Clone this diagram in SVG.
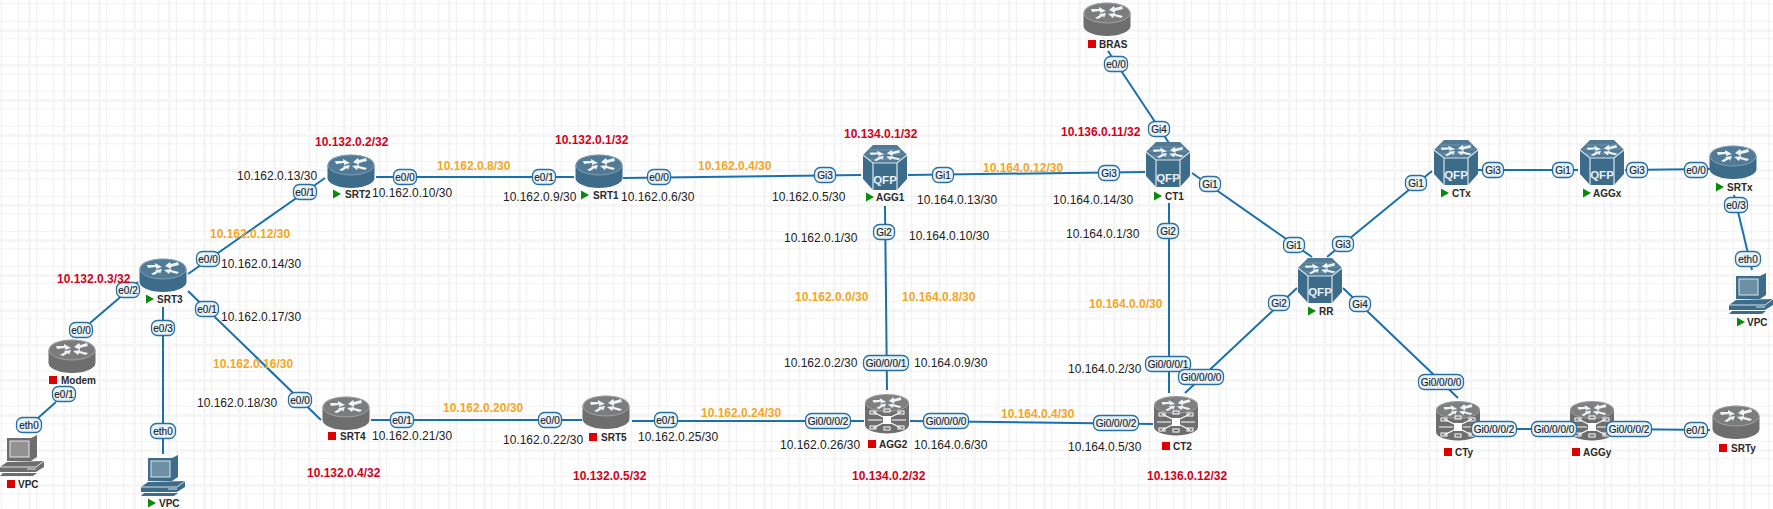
<svg xmlns="http://www.w3.org/2000/svg" xmlns:xlink="http://www.w3.org/1999/xlink" width="1773" height="509" viewBox="0 0 1773 509">
<style>
text{font-family:"Liberation Sans",Arial,sans-serif}
.c line{stroke:#1a6fad;stroke-width:2;fill:none}
.p rect{fill:#e6f3fc;stroke:#2a6f9f;stroke-width:1.3}
.p text{font-size:10px;fill:#222;text-anchor:middle;stroke:#222;stroke-width:.15}
.ip{font-size:12px;fill:#222}
.o{font-size:12px;font-weight:bold;fill:#f5a623}
.r{font-size:12px;font-weight:bold;fill:#d0021b}
.n{font-size:10px;font-weight:bold;fill:#2a2a2a}
.q{font-size:11.5px;font-weight:bold;fill:#e8f1f7;text-anchor:middle}
.b{fill:#3d6b8a}
.g{fill:#6e6e6e}
.st{fill:#0a8a0a}
.sq{fill:#dd0000}
</style>
<defs>
<pattern id="grid" width="17.5" height="17.5" patternUnits="userSpaceOnUse" x="0.8" y="3.3">
<path d="M0 0H17.5M0 0V17.5" stroke="#e6e6e6" stroke-width="1.2" fill="none"/>
</pattern>
<pattern id="band" width="35" height="35" patternUnits="userSpaceOnUse" x="-7" y="-6">
<path d="M0 0H35M0 0V35" stroke="#f6f6f6" stroke-width="6" fill="none"/>
</pattern>
<g id="arrows" fill="#eef3f6" stroke="none">
<polygon points="-16,-10 -8,-10 -8,-12 -1,-8 -7,-6 -7,-8 -15,-7"/>
<polygon points="16,-10 8,-8 8,-6 2,-9 7,-13 8,-11 15,-13"/>
<polygon points="-12,-1 -7,-4 -8,-5 -1,-6 -3,-1 -4,-3 -9,0"/>
<polygon points="14,-1 7,-3 6,-1 1,-5 8,-6 8,-5 16,-3"/>
</g>
<g id="router">
<path d="M-23.500-6V7A23.500 10 0 0 0 23.500 7V-6Z"/>
<ellipse cx="0" cy="-6" rx="23.500" ry="10.500"/>
<ellipse cx="0" cy="-6" rx="23" ry="10" fill="#fff" fill-opacity=".1" stroke="#fff" stroke-opacity=".4" stroke-width=".8"/>
<use xlink:href="#arrows"/>
</g>
<g id="qfp">
<polygon points="-12,-23 12,-23 22,-13 22,11 12,22 -12,22 -22,11 -22,-13"/>
<polygon points="-12,-23 12,-23 22,-13 12,-5 -12,-5 -22,-13" fill="#fff" fill-opacity=".1"/>
<path d="M-22-13-12-5H12L22-13M-12-5V22M12-5V22" stroke="#d8e6ee" stroke-width="1.2" fill="none"/>
<path d="M-16-18H16M-19-14H19M-16-9H16" stroke="#fff" stroke-opacity=".2" fill="none"/>
<g transform="translate(0,-7) scale(.95,.85)"><use xlink:href="#arrows"/></g>
</g>
<g id="sw">
<path d="M-22-12V10A22 8.500 0 0 0 22 10V-12Z"/>
<ellipse cx="0" cy="-12" rx="22" ry="9"/>
<ellipse cx="0" cy="-12" rx="21.500" ry="8.500" fill="#fff" fill-opacity=".12" stroke="#fff" stroke-opacity=".35" stroke-width=".8"/>
<g transform="translate(0,-6) scale(.9)"><use xlink:href="#arrows"/></g>
<g fill="#fff" stroke="#fff" transform="translate(0,-3)">
<rect x="-4" y="4" width="8" height="8" stroke="none"/>
<path d="M-19 8H-5M5 8H19M-14 0-4 5M14 0 4 5M-14 16-4 11M14 16 4 11" stroke-width="1.2" fill="none"/>
<g fill="none" stroke-width="1"><rect x="-17" y="-1" width="6" height="3"/><rect x="11" y="-1" width="6" height="3"/><rect x="-17" y="14" width="6" height="3"/><rect x="11" y="14" width="6" height="3"/><rect x="-3" y="-3" width="6" height="3"/><rect x="-3" y="15" width="6" height="3"/></g>
</g>
</g>
<g id="pc">
<polygon points="-15,-17 9,-17 15,-20 15,2 9,6 -15,6"/>
<rect x="-12" y="-14" width="19" height="16" fill="#fff" fill-opacity=".25" stroke="#fff" stroke-opacity=".8"/>
<polygon points="-22,12 -15,7 22,6 22,12 14,17 -22,17"/>
<path d="M-22 12H14L22 6M5 14H14" stroke="#fff" stroke-opacity=".8" fill="none"/>
<polygon points="-19,18 15,18 11,21 -22,21"/>
</g>
<polygon id="st" points="0,-4.500 8,0 0,4.500"/>
<rect id="sq" x="0" y="-4" width="8" height="8"/>
</defs>
<rect width="1773" height="509" fill="#fff"/>
<rect width="1773" height="509" fill="url(#band)"/>
<rect width="1773" height="509" fill="url(#grid)"/>

<g id="connectors" class="c">
<line x1="188" y1="274" x2="325" y2="178"/>
<line x1="138" y1="282" x2="90" y2="323"/>
<line x1="163" y1="307" x2="163" y2="454"/>
<line x1="188" y1="291" x2="321" y2="420"/>
<line x1="56" y1="402" x2="38" y2="418"/>
<line x1="376" y1="177" x2="574" y2="177"/>
<line x1="623" y1="178" x2="861" y2="175"/>
<line x1="908" y1="175" x2="1145" y2="172"/>
<line x1="1108" y1="51" x2="1169" y2="143"/>
<line x1="885" y1="206" x2="887" y2="390"/>
<line x1="1169" y1="203" x2="1169" y2="393"/>
<line x1="1192" y1="173" x2="1312" y2="257"/>
<line x1="1185" y1="393" x2="1297" y2="288"/>
<line x1="1327" y1="257" x2="1432" y2="171"/>
<line x1="1343" y1="288" x2="1458" y2="398"/>
<line x1="1478" y1="170" x2="1578" y2="170"/>
<line x1="1625" y1="170" x2="1710" y2="169"/>
<line x1="1734" y1="195" x2="1752" y2="270"/>
<line x1="910" y1="421" x2="1153" y2="424"/>
<line x1="371" y1="420" x2="582" y2="420"/>
<line x1="632" y1="421" x2="864" y2="421"/>
<line x1="1470" y1="429" x2="1570" y2="429"/>
<line x1="1610" y1="429" x2="1710" y2="430"/>
</g>

<g id="SRT3"><use xlink:href="#router" x="163" y="275" class="b"/><use xlink:href="#st" x="146" y="299" class="st"/><text x="157" y="303" class="n">SRT3</text></g>
<g id="SRT2"><use xlink:href="#router" x="351" y="171" class="b"/><use xlink:href="#st" x="333" y="194" class="st"/><text x="345" y="198" class="n">SRT2</text></g>
<g id="Modem"><use xlink:href="#router" x="72" y="356" class="g"/><use xlink:href="#sq" x="49" y="380" class="sq"/><text x="61" y="384" class="n">Modem</text></g>
<g id="SRT4"><use xlink:href="#router" x="346" y="413" class="g"/><use xlink:href="#sq" x="328" y="436" class="sq"/><text x="340" y="440" class="n">SRT4</text></g>
<g id="VPC1"><use xlink:href="#pc" x="22" y="455" class="g"/><use xlink:href="#sq" x="7" y="484" class="sq"/><text x="18" y="488" class="n">VPC</text></g>
<g id="VPC2"><use xlink:href="#pc" x="163" y="475" class="b"/><use xlink:href="#st" x="148" y="503" class="st"/><text x="159" y="507" class="n">VPC</text></g>
<g id="SRT1"><use xlink:href="#router" x="599" y="171" class="b"/><use xlink:href="#st" x="581" y="195" class="st"/><text x="593" y="199" class="n">SRT1</text></g>
<g id="SRT5"><use xlink:href="#router" x="606" y="412" class="g"/><use xlink:href="#sq" x="589" y="437" class="sq"/><text x="601" y="441" class="n">SRT5</text></g>
<g id="AGG1"><use xlink:href="#qfp" x="885" y="168" class="b"/><text x="885" y="184" class="q">QFP</text><use xlink:href="#st" x="866" y="197" class="st"/><text x="876" y="201" class="n">AGG1</text></g>
<g id="CT1"><use xlink:href="#qfp" x="1168" y="165" class="b"/><text x="1168" y="182" class="q">QFP</text><use xlink:href="#st" x="1154" y="196" class="st"/><text x="1165" y="200" class="n">CT1</text></g>
<g id="RR"><use xlink:href="#qfp" x="1320" y="281" class="b"/><text x="1320" y="296" class="q">QFP</text><use xlink:href="#st" x="1308" y="311" class="st"/><text x="1319" y="315" class="n">RR</text></g>
<g id="CTx"><use xlink:href="#qfp" x="1456" y="163" class="b"/><text x="1456" y="179" class="q">QFP</text><use xlink:href="#st" x="1441" y="193" class="st"/><text x="1452" y="197" class="n">CTx</text></g>
<g id="AGGx"><use xlink:href="#qfp" x="1602" y="163" class="b"/><text x="1602" y="179" class="q">QFP</text><use xlink:href="#st" x="1583" y="193" class="st"/><text x="1593" y="197" class="n">AGGx</text></g>
<g id="SRTx"><use xlink:href="#router" x="1733" y="162" class="b"/><use xlink:href="#st" x="1716" y="187" class="st"/><text x="1727" y="191" class="n">SRTx</text></g>
<g id="VPCx"><use xlink:href="#pc" x="1751" y="293" class="b"/><use xlink:href="#st" x="1737" y="322" class="st"/><text x="1747" y="326" class="n">VPC</text></g>
<g id="AGG2"><use xlink:href="#sw" x="887" y="415" class="g"/><use xlink:href="#sq" x="868" y="444" class="sq"/><text x="879" y="448" class="n">AGG2</text></g>
<g id="CT2"><use xlink:href="#sw" x="1176" y="417" class="g"/><use xlink:href="#sq" x="1162" y="446" class="sq"/><text x="1173" y="450" class="n">CT2</text></g>
<g id="CTy"><use xlink:href="#sw" x="1458" y="422" class="g"/><use xlink:href="#sq" x="1444" y="452" class="sq"/><text x="1455" y="456" class="n">CTy</text></g>
<g id="AGGy"><use xlink:href="#sw" x="1592" y="422" class="g"/><use xlink:href="#sq" x="1572" y="452" class="sq"/><text x="1583" y="456" class="n">AGGy</text></g>
<g id="SRTy"><use xlink:href="#router" x="1736" y="422" class="g"/><use xlink:href="#sq" x="1719" y="448" class="sq"/><text x="1731" y="452" class="n">SRTy</text></g>
<g id="BRAS"><use xlink:href="#router" x="1107" y="19" class="g"/><use xlink:href="#sq" x="1088" y="44" class="sq"/><text x="1099" y="48" class="n">BRAS</text></g>

<g id="interfaces" class="p">
<g><rect x="293.500" y="184.500" width="23" height="15" rx="6"/><text x="305" y="195.500">e0/1</text></g>
<g><rect x="393.500" y="169.500" width="23" height="15" rx="6"/><text x="405" y="180.500">e0/0</text></g>
<g><rect x="196.500" y="251.500" width="23" height="15" rx="6"/><text x="208" y="262.500">e0/0</text></g>
<g><rect x="116.500" y="282.500" width="23" height="15" rx="6"/><text x="128" y="293.500">e0/2</text></g>
<g><rect x="151.500" y="320.500" width="23" height="15" rx="6"/><text x="163" y="331.500">e0/3</text></g>
<g><rect x="195.500" y="301.500" width="23" height="15" rx="6"/><text x="207" y="312.500">e0/1</text></g>
<g><rect x="69.500" y="322.500" width="23" height="15" rx="6"/><text x="81" y="333.500">e0/0</text></g>
<g><rect x="52.500" y="386.500" width="23" height="15" rx="6"/><text x="64" y="397.500">e0/1</text></g>
<g><rect x="16.500" y="417.500" width="25" height="15" rx="6"/><text x="29" y="428.500">eth0</text></g>
<g><rect x="150.500" y="423.500" width="25" height="15" rx="6"/><text x="163" y="434.500">eth0</text></g>
<g><rect x="288.500" y="392.500" width="23" height="15" rx="6"/><text x="300" y="403.500">e0/0</text></g>
<g><rect x="390.500" y="412.500" width="23" height="15" rx="6"/><text x="402" y="423.500">e0/1</text></g>
<g><rect x="532.500" y="169.500" width="23" height="15" rx="6"/><text x="544" y="180.500">e0/1</text></g>
<g><rect x="647.500" y="169.500" width="23" height="15" rx="6"/><text x="659" y="180.500">e0/0</text></g>
<g><rect x="814.500" y="167.500" width="21" height="15" rx="6"/><text x="825" y="178.500">Gi3</text></g>
<g><rect x="932.500" y="167.500" width="21" height="15" rx="6"/><text x="943" y="178.500">Gi1</text></g>
<g><rect x="1098.500" y="165.500" width="21" height="15" rx="6"/><text x="1109" y="176.500">Gi3</text></g>
<g><rect x="1199.500" y="176.500" width="21" height="15" rx="6"/><text x="1210" y="187.500">Gi1</text></g>
<g><rect x="1148.500" y="121.500" width="21" height="15" rx="6"/><text x="1159" y="132.500">Gi4</text></g>
<g><rect x="873.500" y="224.500" width="21" height="15" rx="6"/><text x="884" y="235.500">Gi2</text></g>
<g><rect x="1157.500" y="223.500" width="21" height="15" rx="6"/><text x="1168" y="234.500">Gi2</text></g>
<g><rect x="1104.500" y="56.500" width="23" height="15" rx="6"/><text x="1116" y="67.500">e0/0</text></g>
<g><rect x="863.500" y="355.500" width="45" height="15" rx="6"/><text x="886" y="366.500">Gi0/0/0/1</text></g>
<g><rect x="805.500" y="413.500" width="45" height="15" rx="6"/><text x="828" y="424.500">Gi0/0/0/2</text></g>
<g><rect x="923.500" y="413.500" width="45" height="15" rx="6"/><text x="946" y="424.500">Gi0/0/0/0</text></g>
<g><rect x="1093.500" y="415.500" width="45" height="15" rx="6"/><text x="1116" y="426.500">Gi0/0/0/2</text></g>
<g><rect x="1145.500" y="356.500" width="45" height="15" rx="6"/><text x="1168" y="367.500">Gi0/0/0/1</text></g>
<g><rect x="1178.500" y="369.500" width="45" height="15" rx="6"/><text x="1201" y="380.500">Gi0/0/0/0</text></g>
<g><rect x="538.500" y="412.500" width="23" height="15" rx="6"/><text x="550" y="423.500">e0/0</text></g>
<g><rect x="654.500" y="412.500" width="23" height="15" rx="6"/><text x="666" y="423.500">e0/1</text></g>
<g><rect x="1283.500" y="237.500" width="21" height="15" rx="6"/><text x="1294" y="248.500">Gi1</text></g>
<g><rect x="1332.500" y="236.500" width="21" height="15" rx="6"/><text x="1343" y="247.500">Gi3</text></g>
<g><rect x="1268.500" y="295.500" width="21" height="15" rx="6"/><text x="1279" y="306.500">Gi2</text></g>
<g><rect x="1349.500" y="296.500" width="21" height="15" rx="6"/><text x="1360" y="307.500">Gi4</text></g>
<g><rect x="1418.500" y="374.500" width="45" height="15" rx="6"/><text x="1441" y="385.500">Gi0/0/0/0</text></g>
<g><rect x="1405.500" y="175.500" width="21" height="15" rx="6"/><text x="1416" y="186.500">Gi1</text></g>
<g><rect x="1482.500" y="162.500" width="21" height="15" rx="6"/><text x="1493" y="173.500">Gi3</text></g>
<g><rect x="1552.500" y="162.500" width="21" height="15" rx="6"/><text x="1563" y="173.500">Gi1</text></g>
<g><rect x="1626.500" y="162.500" width="21" height="15" rx="6"/><text x="1637" y="173.500">Gi3</text></g>
<g><rect x="1684.500" y="162.500" width="23" height="15" rx="6"/><text x="1696" y="173.500">e0/0</text></g>
<g><rect x="1724.500" y="197.500" width="23" height="15" rx="6"/><text x="1736" y="208.500">e0/3</text></g>
<g><rect x="1735.500" y="251.500" width="25" height="15" rx="6"/><text x="1748" y="262.500">eth0</text></g>
<g><rect x="1471.500" y="421.500" width="45" height="15" rx="6"/><text x="1494" y="432.500">Gi0/0/0/2</text></g>
<g><rect x="1531.500" y="421.500" width="45" height="15" rx="6"/><text x="1554" y="432.500">Gi0/0/0/0</text></g>
<g><rect x="1606.500" y="421.500" width="45" height="15" rx="6"/><text x="1629" y="432.500">Gi0/0/0/2</text></g>
<g><rect x="1684.500" y="422.500" width="23" height="15" rx="6"/><text x="1696" y="433.500">e0/1</text></g>
</g>

<g id="addresses">
<text x="237" y="180" class="ip">10.162.0.13/30</text>
<text x="372" y="197" class="ip">10.162.0.10/30</text>
<text x="221" y="268" class="ip">10.162.0.14/30</text>
<text x="221" y="321" class="ip">10.162.0.17/30</text>
<text x="197" y="407" class="ip">10.162.0.18/30</text>
<text x="372" y="440" class="ip">10.162.0.21/30</text>
<text x="503" y="201" class="ip">10.162.0.9/30</text>
<text x="621" y="201" class="ip">10.162.0.6/30</text>
<text x="772" y="201" class="ip">10.162.0.5/30</text>
<text x="917" y="204" class="ip">10.164.0.13/30</text>
<text x="1053" y="204" class="ip">10.164.0.14/30</text>
<text x="784" y="242" class="ip">10.162.0.1/30</text>
<text x="909" y="240" class="ip">10.164.0.10/30</text>
<text x="1066" y="238" class="ip">10.164.0.1/30</text>
<text x="784" y="367" class="ip">10.162.0.2/30</text>
<text x="914" y="367" class="ip">10.164.0.9/30</text>
<text x="1068" y="373" class="ip">10.164.0.2/30</text>
<text x="780" y="449" class="ip">10.162.0.26/30</text>
<text x="914" y="449" class="ip">10.164.0.6/30</text>
<text x="1068" y="451" class="ip">10.164.0.5/30</text>
<text x="503" y="444" class="ip">10.162.0.22/30</text>
<text x="638" y="441" class="ip">10.162.0.25/30</text>
<text x="210" y="238" class="o">10.162.0.12/30</text>
<text x="213" y="368" class="o">10.162.0.16/30</text>
<text x="437" y="170" class="o">10.162.0.8/30</text>
<text x="698" y="170" class="o">10.162.0.4/30</text>
<text x="983" y="172" class="o">10.164.0.12/30</text>
<text x="795" y="301" class="o">10.162.0.0/30</text>
<text x="902" y="301" class="o">10.164.0.8/30</text>
<text x="1089" y="308" class="o">10.164.0.0/30</text>
<text x="443" y="412" class="o">10.162.0.20/30</text>
<text x="701" y="417" class="o">10.162.0.24/30</text>
<text x="1001" y="418" class="o">10.164.0.4/30</text>
<text x="315" y="146" class="r">10.132.0.2/32</text>
<text x="57" y="283" class="r">10.132.0.3/32</text>
<text x="307" y="477" class="r">10.132.0.4/32</text>
<text x="555" y="144" class="r">10.132.0.1/32</text>
<text x="573" y="480" class="r">10.132.0.5/32</text>
<text x="844" y="138" class="r">10.134.0.1/32</text>
<text x="1061" y="136" class="r">10.136.0.11/32</text>
<text x="852" y="480" class="r">10.134.0.2/32</text>
<text x="1147" y="480" class="r">10.136.0.12/32</text>
</g>
</svg>
